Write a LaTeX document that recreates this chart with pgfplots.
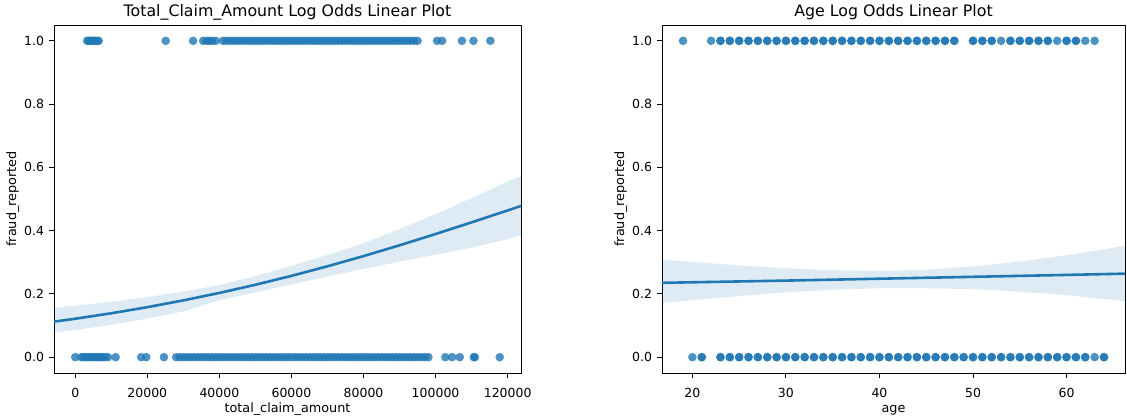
\documentclass[border=0pt]{standalone}
\usepackage{fontspec}
\setmainfont{DejaVu Sans}
\usepackage{pgfplots}
\pgfplotsset{compat=1.18}
\usepgfplotslibrary{fillbetween}

\definecolor{c0}{HTML}{1F77B4}

\pgfplotsset{
  regpanel/.style={
    scale only axis,
    height=348pt,
    ymin=-0.05, ymax=1.05,
    ytick={0,0.2,0.4,0.6,0.8,1.0},
    /pgf/number format/assume math mode=true,
    tick align=outside, tick pos=left,
    major tick length=5pt,
    tick style={black, line width=0.9pt},
    axis line style={black, line width=0.9pt},
    ticklabel style={font=\fontsize{12.5}{15}\selectfont},
    xticklabel style={inner sep=0pt, anchor=north, yshift=-10pt},
    yticklabel style={inner sep=0pt, anchor=east, xshift=-4.7pt,
      /pgf/number format/fixed, /pgf/number format/fixed zerofill,
      /pgf/number format/precision=1},
    label style={font=\fontsize{12.8}{15}\selectfont},
    xlabel style={at={(axis description cs:0.5,0)}, anchor=base, inner sep=0pt, yshift=-40pt},
    ylabel style={at={([xshift=-38pt]axis description cs:0,0.5)}, anchor=base, inner sep=0pt},
    every axis title shift=0pt,
    title style={font=\fontsize{15.8}{18}\selectfont, at={(axis description cs:0.5,1)},
      anchor=base, inner sep=0pt, yshift=8.3pt},
    ylabel={fraud\_reported},
  },
  pts/.style={only marks, mark=*, mark size=4.3pt, color=c0,
    mark options={fill=c0, draw=c0, fill opacity=0.8, draw opacity=0}},
  fit/.style={c0, line width=2.6pt},
}

\begin{document}
\begin{tikzpicture}
\path (0,0) rectangle (1127pt,419pt);

% ---------------- total claim amount ----------------
\begin{axis}[regpanel,
  at={(54pt,46pt)}, anchor=south west,
  width=467pt,
  xmin=-5900, xmax=123700,
  xtick={0,20000,40000,60000,80000,100000,120000},
  scaled x ticks=false,
  xticklabel style={/pgf/number format/fixed, /pgf/number format/1000 sep={}},
  xlabel={total\_claim\_amount},
  title={Total\_Claim\_Amount Log Odds Linear Plot},
]
% confidence band
\addplot[name path=up, draw=none] coordinates {
  (-6000,0.156) (0,0.163) (10000,0.175) (20000,0.190) (30000,0.207)
  (40000,0.228) (50000,0.256) (60000,0.289) (70000,0.323) (80000,0.360)
  (90000,0.405) (100000,0.452) (110000,0.503) (120000,0.555) (123700,0.573)};
\addplot[name path=lo, draw=none] coordinates {
  (-6000,0.078) (0,0.086) (10000,0.102) (20000,0.122) (30000,0.145)
  (40000,0.180) (50000,0.205) (60000,0.230) (70000,0.255) (80000,0.279)
  (90000,0.302) (100000,0.324) (110000,0.346) (120000,0.373) (123700,0.386)};
\addplot[fill=c0, fill opacity=0.15, draw=none] fill between[of=up and lo];

% reported = 1
\addplot[pts] coordinates {
  (3300,1) (3700,1) (4100,1) (4500,1) (4900,1) (5300,1) (5700,1) (6100,1) (6500,1)
  (25100,1) (32700,1) (35500,1) (36500,1) (37300,1) (38000,1) (39000,1)
  (41000,1) (42000,1) (43000,1) (44000,1) (45000,1) (46000,1) (47000,1) (48000,1)
  (49000,1) (50000,1) (51000,1) (52000,1) (53000,1) (54000,1) (55000,1) (56000,1)
  (57000,1) (58000,1) (59000,1) (60000,1) (61000,1) (62000,1) (63000,1) (64000,1)
  (65000,1) (66000,1) (67000,1) (68000,1) (69000,1) (70000,1) (71000,1) (72000,1)
  (73000,1) (74000,1) (75000,1) (76000,1) (77000,1) (78000,1) (79000,1) (80000,1)
  (81000,1) (82000,1) (83000,1) (84000,1) (85000,1) (86000,1) (87000,1) (88000,1)
  (89000,1) (90000,1) (91000,1) (92000,1) (93000,1) (94000,1) (95000,1)
  (100400,1) (101800,1) (107300,1) (110500,1) (115200,1)};

% reported = 0
\addplot[pts] coordinates {
  (0,0) (1700,0) (2300,0) (2900,0) (3500,0) (4100,0) (4700,0) (5300,0) (5900,0)
  (6500,0) (7100,0) (7700,0) (8300,0) (9100,0) (11200,0) (18300,0) (19700,0) (24600,0)
  (28000,0) (29000,0) (30000,0) (31000,0) (32000,0) (33000,0) (34000,0) (35000,0)
  (36000,0) (37000,0) (38000,0) (39000,0) (40000,0) (41000,0) (42000,0) (43000,0)
  (44000,0) (45000,0) (46000,0) (47000,0) (48000,0) (49000,0) (50000,0) (51000,0)
  (52000,0) (53000,0) (54000,0) (55000,0) (56000,0) (57000,0) (58000,0) (59000,0)
  (60000,0) (61000,0) (62000,0) (63000,0) (64000,0) (65000,0) (66000,0) (67000,0)
  (68000,0) (69000,0) (70000,0) (71000,0) (72000,0) (73000,0) (74000,0) (75000,0)
  (76000,0) (77000,0) (78000,0) (79000,0) (80000,0) (81000,0) (82000,0) (83000,0)
  (84000,0) (85000,0) (86000,0) (87000,0) (88000,0) (89000,0) (90000,0) (91000,0)
  (92000,0) (93000,0) (94000,0) (95000,0) (96000,0) (97000,0) (98000,0)
  (102700,0) (104600,0) (106700,0) (110600,0) (110900,0) (117800,0)};

% fitted logistic curve
\addplot[fit] coordinates {
  (-6000,0.1121) (0,0.1215) (10000,0.1388) (20000,0.1581) (30000,0.1795)
  (40000,0.2031) (50000,0.2289) (60000,0.2570) (70000,0.2873) (80000,0.3195)
  (90000,0.3536) (100000,0.3893) (110000,0.4262) (120000,0.4639) (123700,0.4780)};
\end{axis}

% ---------------- age ----------------
\begin{axis}[regpanel,
  at={(662pt,46pt)}, anchor=south west,
  width=463pt,
  xmin=16.75, xmax=66.25,
  xtick={20,30,40,50,60},
  xlabel={age},
  title={Age Log Odds Linear Plot},
]
\addplot[name path=up, draw=none] coordinates {
  (16.75,0.309) (20,0.301) (25,0.290) (30,0.281) (35,0.275) (40,0.273)
  (45,0.276) (50,0.287) (55,0.302) (60,0.322) (66.25,0.352)};
\addplot[name path=lo, draw=none] coordinates {
  (16.75,0.172) (20,0.180) (25,0.193) (30,0.205) (35,0.213) (40,0.218)
  (45,0.218) (50,0.215) (55,0.207) (60,0.196) (66.25,0.177)};
\addplot[fill=c0, fill opacity=0.15, draw=none] fill between[of=up and lo];

% reported = 1
\addplot[pts] coordinates {
  (19,1) (22,1) (23,1) (24,1) (25,1) (26,1) (27,1) (28,1) (29,1) (30,1) (31,1)
  (32,1) (33,1) (34,1) (35,1) (36,1) (37,1) (38,1) (39,1) (40,1) (41,1) (42,1)
  (43,1) (44,1) (45,1) (46,1) (47,1) (48,1) (50,1) (51,1) (52,1) (53,1) (54,1)
  (55,1) (56,1) (57,1) (58,1) (59,1) (60,1) (61,1) (62,1) (63,1)};
% repeated observations
\addplot[pts] coordinates {
  (23,1) (24,1) (25,1) (26,1) (27,1) (28,1) (29,1) (30,1) (31,1)
  (32,1) (33,1) (34,1) (35,1) (36,1) (37,1) (38,1) (39,1) (40,1) (41,1) (42,1)
  (43,1) (44,1) (45,1) (46,1) (47,1) (48,1) (50,1) (51,1) (52,1) (54,1)
  (55,1) (56,1) (57,1) (58,1) (60,1) (61,1)};

% reported = 0
\addplot[pts] coordinates {
  (20,0) (21,0) (23,0) (24,0) (25,0) (26,0) (27,0) (28,0) (29,0) (30,0) (31,0)
  (32,0) (33,0) (34,0) (35,0) (36,0) (37,0) (38,0) (39,0) (40,0) (41,0) (42,0)
  (43,0) (44,0) (45,0) (46,0) (47,0) (48,0) (49,0) (50,0) (51,0) (52,0) (53,0)
  (54,0) (55,0) (56,0) (57,0) (58,0) (59,0) (60,0) (61,0) (62,0) (63,0) (64,0)};
\addplot[pts] coordinates {
  (21,0) (23,0) (24,0) (25,0) (26,0) (27,0) (28,0) (29,0) (30,0) (31,0)
  (32,0) (33,0) (34,0) (35,0) (36,0) (37,0) (38,0) (39,0) (40,0) (41,0) (42,0)
  (43,0) (44,0) (45,0) (46,0) (47,0) (48,0) (49,0) (50,0) (51,0) (52,0) (53,0)
  (54,0) (55,0) (56,0) (57,0) (58,0) (59,0) (60,0) (61,0) (62,0) (64,0)};

\addplot[fit] coordinates {
  (16.75,0.235) (30,0.242) (40,0.248) (50,0.254) (60,0.260) (66.25,0.264)};
\end{axis}
\end{tikzpicture}
\end{document}
